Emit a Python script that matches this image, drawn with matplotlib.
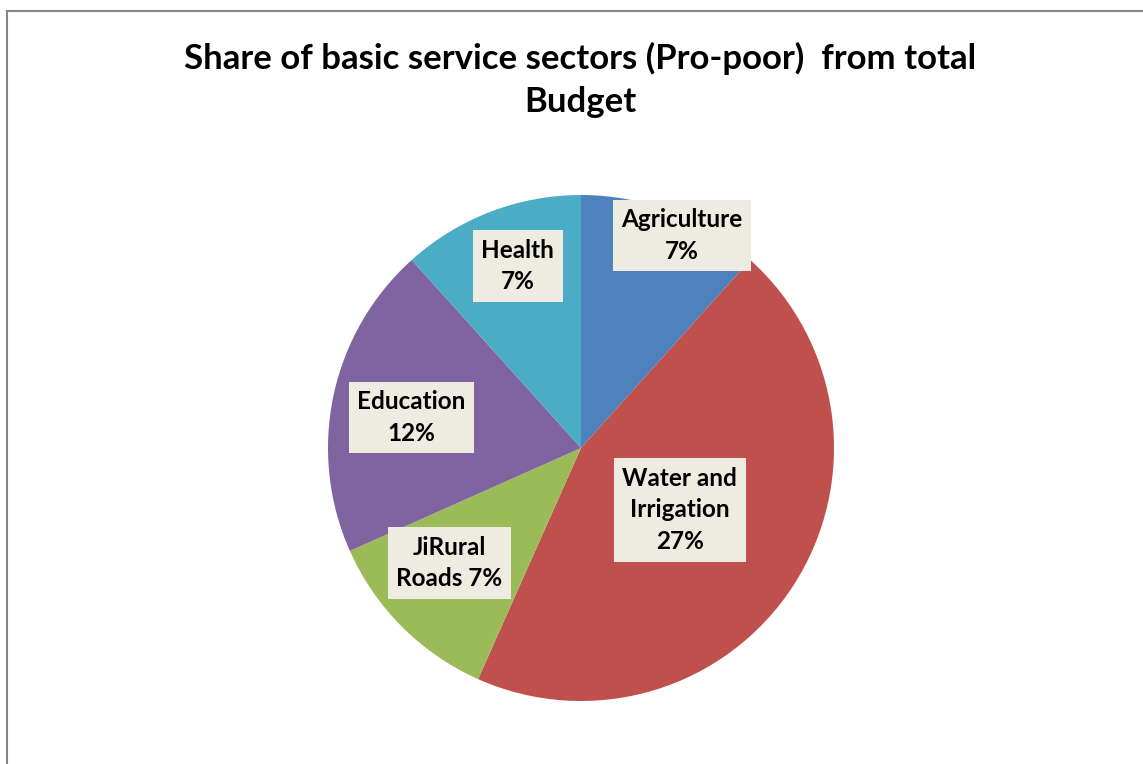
import matplotlib
matplotlib.use("Agg")
import matplotlib.pyplot as plt
from matplotlib.lines import Line2D

categories = ["Agriculture", "Water and\nIrrigation", "JiRural\nRoads", "Education", "Health"]
values = [7, 27, 7, 12, 7]
pct_labels = ["7%", "27%", "7%", "12%", "7%"]
label_fmt = ["{c}\n{p}", "{c}\n{p}", "{c} {p}", "{c}\n{p}", "{c}\n{p}"]
colors = ["#4F81BD", "#C0504D", "#9BBB59", "#8064A2", "#4BACC6"]
title = "Share of basic service sectors (Pro-poor)  from total\nBudget"

# label anchor positions in pie units (radius = 1)
label_pos = [(0.40, 0.84), (0.39, -0.245), (-0.52, -0.455), (-0.67, 0.12), (-0.25, 0.72)]

FONT = ["Lato", "DejaVu Sans"]

W, H = 1143, 764
fig = plt.figure(figsize=(W / 100, H / 100), dpi=100)
fig.patch.set_facecolor("white")

cx, cy, r = 581, 448, 253
ax = fig.add_axes([(cx - r) / W, (H - cy - r) / H, 2 * r / W, 2 * r / H])
ax.pie(values, colors=colors, startangle=90, counterclock=False, radius=1,
       wedgeprops=dict(linewidth=0))
ax.set_xlim(-1, 1)
ax.set_ylim(-1, 1)
ax.set_aspect("equal")
ax.axis("off")

for cat, p, fmt, (x, y) in zip(categories, pct_labels, label_fmt, label_pos):
    ax.text(x, y, fmt.format(c=cat, p=p), ha="center", va="center",
            fontsize=17.5, fontweight="bold", family=FONT, color="black",
            linespacing=1.45,
            bbox=dict(boxstyle="square,pad=0.35", facecolor="#EEECE1", edgecolor="none"))

fig.text(580 / W, 1 - 80 / H, title, ha="center", va="center",
         fontsize=25, fontweight="bold", family=FONT, linespacing=1.4)

fig.add_artist(Line2D([7 / W, 1], [1 - 10.5 / H, 1 - 10.5 / H],
                      transform=fig.transFigure, color="#868686", linewidth=1.5))
fig.add_artist(Line2D([7 / W, 7 / W], [0, 1 - 10.5 / H],
                      transform=fig.transFigure, color="#868686", linewidth=1.5))

fig.savefig("out.png", dpi=100, facecolor="white")
